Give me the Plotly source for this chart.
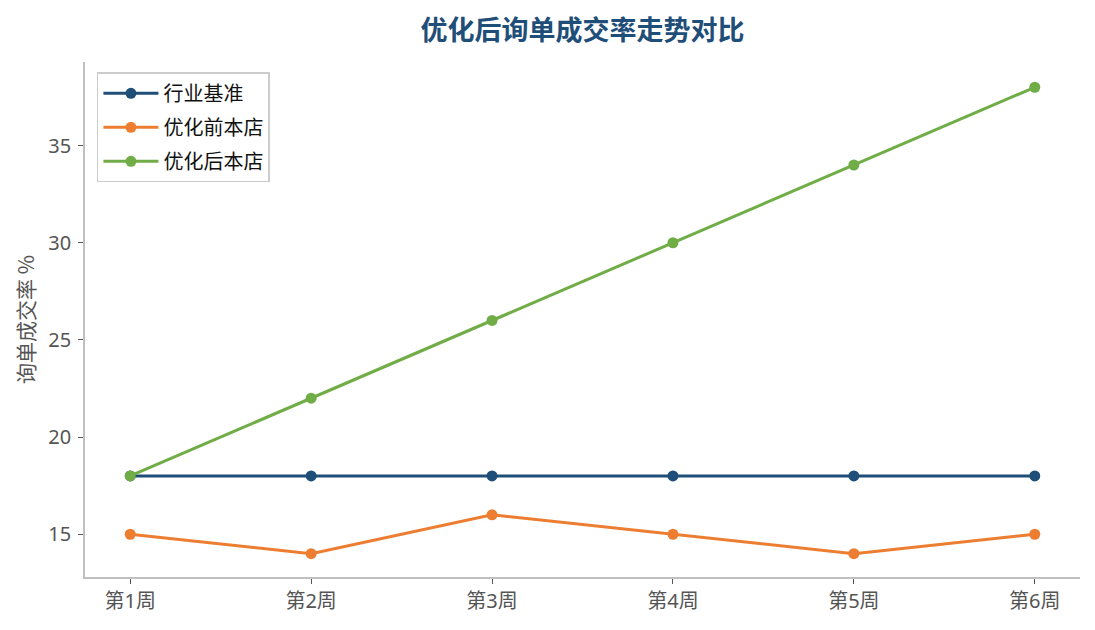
import plotly.graph_objects as go

weeks = ['第1周', '第2周', '第3周', '第4周', '第5周', '第6周']
benchmark = [18, 18, 18, 18, 18, 18]
before = [15, 14, 16, 15, 14, 15]
after = [18, 22, 26, 30, 34, 38]

series = [
    ('行业基准', benchmark, '#1f4e79'),
    ('优化前本店', before, '#ed7d31'),
    ('优化后本店', after, '#70ad47'),
]

fig = go.Figure()
for name, vals, color in series:
    fig.add_trace(go.Scatter(x=weeks, y=vals, name=name, mode='lines+markers',
                             legendgroup=name,
                             line=dict(color=color, width=3),
                             marker=dict(color=color, size=11)))

fig.update_layout(
    width=1095, height=630,
    paper_bgcolor='white', plot_bgcolor='white',
    font=dict(family='Noto Sans, Noto Sans CJK SC', size=20, color='#555555'),
    title=dict(text='<b>优化后询单成交率走势对比</b>', x=0.5, xanchor='center', xref='paper',
               y=0.965, yanchor='middle',
               font=dict(family='Noto Sans CJK SC', size=27, color='#1f4e79')),
    margin=dict(l=77, r=23, t=54, b=61),
    legend=dict(x=0.012, y=0.98, xanchor='left', yanchor='top',
                bordercolor='#cccccc', borderwidth=1.5, bgcolor='white',
                font=dict(family='Noto Sans CJK SC', size=20, color='#111111'),
                tracegroupgap=5, itemwidth=55),
)
fig.update_xaxes(type='category', range=[-0.25, 5.25], showline=True, linecolor='#c0c0c0',
                 linewidth=1.5, ticks='outside', ticklen=5, tickcolor='#555555',
                 showgrid=False, zeroline=False)
fig.update_yaxes(title=dict(text='询单成交率 %', standoff=8,
                            font=dict(family='Noto Sans CJK SC', size=21)),
                 range=[12.8, 39.3], dtick=5, ticklabelstandoff=3,
                 showline=True, linecolor='#c0c0c0', linewidth=1.5,
                 ticks='outside', ticklen=5, tickcolor='#555555',
                 showgrid=False, zeroline=False)

fig.write_html('out.html')
